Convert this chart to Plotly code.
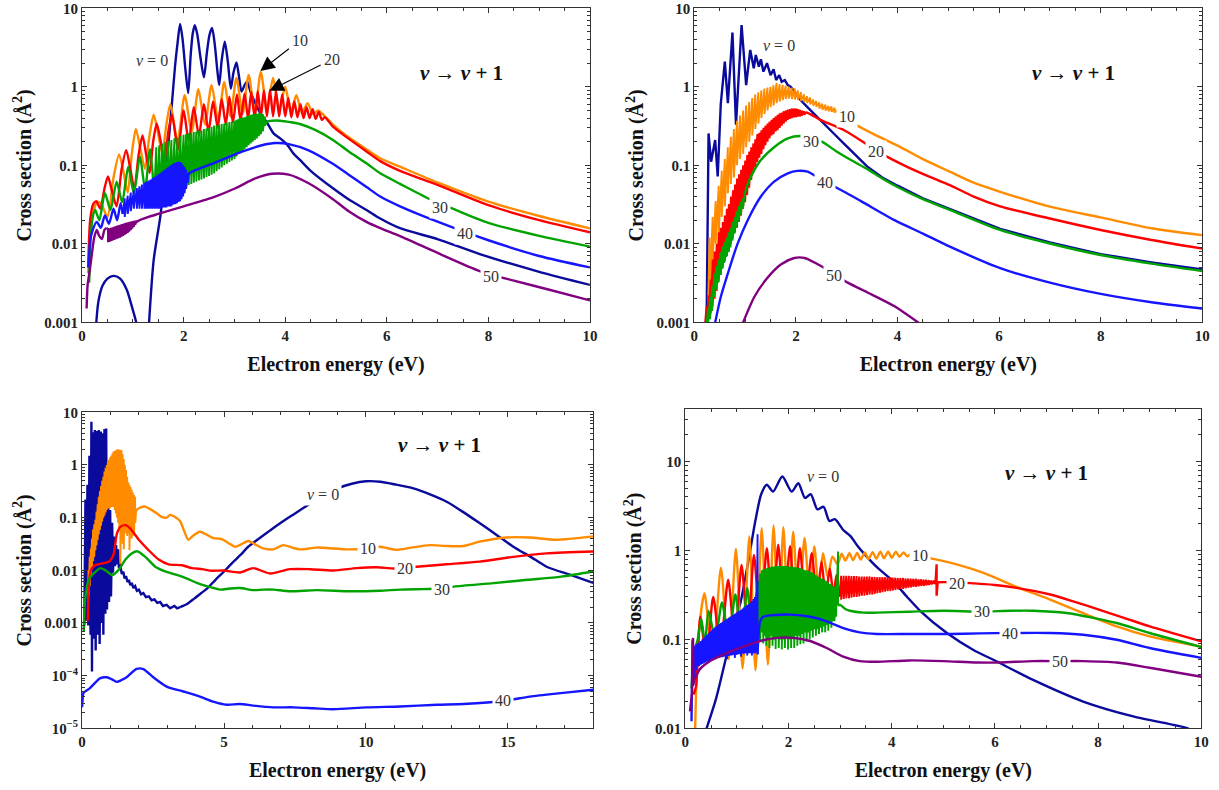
import math
import plotly.graph_objects as go

W, H = 1219, 790
FONT = "Liberation Serif, Times New Roman, serif"
FRAME = "#333333"
COLORS = {0: "#0a0a9c", 10: "#ff8c00", 20: "#ff0000", 30: "#00a300", 40: "#1515ff", 50: "#800080"}
LW = 2.4
LW_TEETH = 1.9

# ---------------- tick labels ----------------
X_TICKS_10 = [0, 2, 4, 6, 8, 10]
X_TICKS_18 = [0, 5, 10, 15]
Y_TICKS_A = [0.001, 0.01, 0.1, 1, 10]
Y_TEXT_A = ["0.001", "0.01", "0.1", "1", "10"]
Y_TICKS_C = [1e-5, 1e-4, 0.001, 0.01, 0.1, 1, 10]
Y_TEXT_C = ["10<sup>\u22125</sup>", "10<sup>\u22124</sup>", "0.001", "0.01", "0.1", "1", "10"]
Y_TICKS_D = [0.01, 0.1, 1, 10]
Y_TEXT_D = ["0.01", "0.1", "1", "10"]

# ---------------- PANEL 1 data ----------------
P1_V0_ARCH = [(0.27, 0.0008), (0.32, 0.0018), (0.40, 0.0029), (0.50, 0.0036), (0.62, 0.0039), (0.75, 0.0036),
              (0.88, 0.0026), (0.98, 0.0016), (1.05, 0.0011), (1.10, 0.0008)]
P1_V0 = [(1.31, 0.0008), (1.41, 0.0062), (1.54, 0.022), (1.67, 0.117), (1.77, 0.62), (1.83, 1.8), (1.88, 3.6),
         (1.93, 6.3), (1.98, 4.0), (2.03, 1.8), (2.09, 0.83), (2.14, 2.6), (2.18, 4.8), (2.22, 6.1), (2.27, 4.6),
         (2.33, 2.4), (2.40, 1.32), (2.46, 2.8), (2.51, 4.6), (2.56, 5.6), (2.61, 3.6), (2.66, 1.7), (2.70, 1.05),
         (2.75, 2.2), (2.81, 3.76), (2.87, 2.1), (2.93, 0.95), (2.98, 1.5), (3.04, 2.04), (3.09, 1.35), (3.14, 0.87),
         (3.20, 1.05), (3.25, 1.16), (3.32, 0.85), (3.42, 0.6), (3.52, 0.45), (3.63, 0.36), (3.77, 0.255),
         (3.90, 0.22), (4.03, 0.186), (4.16, 0.142), (4.29, 0.117), (4.50, 0.085), (4.94, 0.051), (5.30, 0.035),
         (5.60, 0.027), (5.87, 0.021), (6.26, 0.0158), (7.01, 0.0114), (7.83, 0.0074), (9.00, 0.0044), (10.0, 0.003)]
P1_V10 = [(0.12, 0.0042), (0.16, 0.012), (0.22, 0.025), (0.30, 0.034), (0.37, 0.033), (0.50, 0.022), (0.62, 0.07),
          (0.73, 0.138), (0.82, 0.08), (0.90, 0.045), (0.98, 0.14), (1.06, 0.29), (1.15, 0.16), (1.24, 0.09),
          (1.32, 0.22), (1.41, 0.44), (1.50, 0.25), (1.58, 0.14), (1.66, 0.33), (1.74, 0.60), (1.88, 0.20),
          (2.02, 0.78), (2.16, 0.27), (2.29, 0.93), (2.42, 0.33), (2.55, 1.05), (2.68, 0.38), (2.80, 1.15),
          (2.92, 0.42), (3.04, 1.30), (3.16, 0.45), (3.28, 1.42), (3.40, 0.48), (3.52, 1.55), (3.64, 0.50),
          (3.76, 1.30), (3.88, 0.50), (4.00, 1.00), (4.11, 0.48), (4.22, 0.78), (4.33, 0.46), (4.44, 0.62),
          (4.55, 0.45), (4.65, 0.50), (4.78, 0.42), (4.94, 0.33), (5.20, 0.24), (5.60, 0.16), (5.87, 0.123),
          (6.26, 0.096), (7.01, 0.06), (8.00, 0.0344), (9.00, 0.0226), (10.0, 0.0157)]
P1_V20 = [(0.12, 0.005), (0.16, 0.02), (0.22, 0.032), (0.28, 0.035), (0.36, 0.028), (0.44, 0.05), (0.51, 0.072),
          (0.58, 0.05), (0.68, 0.03), (0.78, 0.09), (0.87, 0.156), (0.95, 0.09), (1.03, 0.05), (1.11, 0.13),
          (1.19, 0.24), (1.26, 0.14), (1.33, 0.08), (1.40, 0.2), (1.47, 0.34), (1.55, 0.2), (1.62, 0.11),
          (1.70, 0.27), (1.77, 0.44), (1.89, 0.16), (2.00, 0.50), (2.10, 0.20), (2.20, 0.55), (2.30, 0.24),
          (2.40, 0.60), (2.49, 0.27), (2.58, 0.65), (2.67, 0.30), (2.75, 0.70), (2.83, 0.33), (2.90, 0.75),
          (2.97, 0.35), (3.05, 0.80), (3.12, 0.37), (3.20, 0.82), (3.27, 0.39), (3.33, 0.86), (3.40, 0.40),
          (3.46, 0.88), (3.52, 0.41), (3.58, 0.90), (3.64, 0.42), (3.70, 0.92), (3.76, 0.42), (3.82, 0.88),
          (3.88, 0.42), (3.94, 0.80), (4.00, 0.42), (4.06, 0.72), (4.12, 0.41), (4.18, 0.65), (4.24, 0.41),
          (4.30, 0.60), (4.36, 0.40), (4.42, 0.55), (4.48, 0.40), (4.54, 0.52), (4.60, 0.39), (4.66, 0.48),
          (4.72, 0.38), (4.78, 0.41), (4.94, 0.31), (5.20, 0.23), (5.60, 0.15), (5.87, 0.113), (6.26, 0.085),
          (7.01, 0.056), (8.00, 0.031), (9.00, 0.020), (10.0, 0.014)]
P1_V30_START = [(0.14, 0.0032), (0.17, 0.012), (0.21, 0.022), (0.26, 0.027), (0.34, 0.020), (0.45, 0.044),
                (0.56, 0.027), (0.68, 0.062), (0.79, 0.034), (0.91, 0.096), (1.02, 0.044), (1.14, 0.129),
                (1.24, 0.05), (1.34, 0.16), (1.42, 0.04)]
P1_V30_TEETH = [(1.46, 0.17, 0.033), (1.52, 0.18, 0.034), (1.58, 0.19, 0.035), (1.64, 0.20, 0.037),
                (1.70, 0.205, 0.040), (1.76, 0.21, 0.043), (1.82, 0.22, 0.046), (1.88, 0.225, 0.048),
                (1.94, 0.235, 0.050), (2.00, 0.245, 0.052), (2.05, 0.25, 0.054), (2.10, 0.255, 0.056),
                (2.15, 0.26, 0.058), (2.20, 0.265, 0.060), (2.25, 0.27, 0.062), (2.30, 0.275, 0.064),
                (2.35, 0.28, 0.066), (2.40, 0.29, 0.068), (2.45, 0.295, 0.071), (2.50, 0.30, 0.073),
                (2.55, 0.31, 0.076), (2.60, 0.32, 0.079), (2.65, 0.325, 0.084), (2.70, 0.33, 0.089),
                (2.75, 0.335, 0.094), (2.80, 0.34, 0.10), (2.85, 0.35, 0.105), (2.90, 0.355, 0.11),
                (2.95, 0.36, 0.115), (3.00, 0.37, 0.12), (3.04, 0.38, 0.13), (3.08, 0.39, 0.14),
                (3.12, 0.40, 0.145), (3.16, 0.405, 0.15), (3.20, 0.41, 0.16), (3.24, 0.42, 0.17),
                (3.28, 0.43, 0.18), (3.32, 0.44, 0.19), (3.36, 0.445, 0.20), (3.40, 0.45, 0.21),
                (3.44, 0.455, 0.22), (3.48, 0.46, 0.235), (3.52, 0.46, 0.25), (3.56, 0.45, 0.27), (3.60, 0.42, 0.32)]
P1_V30_TAIL = [(3.64, 0.36), (3.75, 0.37), (3.90, 0.37), (4.10, 0.355), (4.29, 0.336), (4.60, 0.28), (4.94, 0.21),
               (5.25, 0.15), (5.60, 0.106), (5.87, 0.079), (6.26, 0.058), (6.85, 0.037), (7.30, 0.028),
               (8.00, 0.0185), (9.00, 0.0126), (10.0, 0.0092)]
P1_V40_START = [(0.13, 0.005), (0.16, 0.011), (0.21, 0.015), (0.29, 0.019), (0.37, 0.016), (0.45, 0.023),
                (0.53, 0.018), (0.62, 0.028), (0.69, 0.02), (0.76, 0.033), (0.80, 0.024)]
P1_V40_TEETH = [(0.84, 0.038, 0.022), (0.90, 0.041, 0.024), (0.96, 0.045, 0.026), (1.02, 0.048, 0.028),
                (1.08, 0.051, 0.028), (1.13, 0.054, 0.028), (1.18, 0.057, 0.028), (1.23, 0.060, 0.028),
                (1.27, 0.062, 0.028), (1.31, 0.064, 0.028), (1.35, 0.066, 0.028), (1.39, 0.069, 0.028),
                (1.43, 0.071, 0.028), (1.47, 0.074, 0.028), (1.51, 0.077, 0.028), (1.54, 0.079, 0.028),
                (1.57, 0.082, 0.029), (1.60, 0.085, 0.029), (1.63, 0.088, 0.029), (1.66, 0.091, 0.029),
                (1.69, 0.094, 0.030), (1.72, 0.097, 0.030), (1.75, 0.10, 0.030), (1.78, 0.103, 0.031),
                (1.81, 0.106, 0.032), (1.84, 0.108, 0.032), (1.87, 0.11, 0.033), (1.90, 0.111, 0.034),
                (1.93, 0.11, 0.035), (1.96, 0.107, 0.037), (1.99, 0.10, 0.040), (2.02, 0.095, 0.044),
                (2.05, 0.088, 0.05), (2.08, 0.08, 0.06)]
P1_V40_TAIL = [(2.10, 0.078), (2.20, 0.085), (2.62, 0.108), (3.15, 0.149), (3.54, 0.18), (3.81, 0.192),
               (4.07, 0.186), (4.46, 0.155), (4.92, 0.106), (5.25, 0.076), (5.60, 0.053), (5.87, 0.04),
               (6.26, 0.03), (7.01, 0.019), (8.00, 0.0111), (9.00, 0.007), (10.0, 0.005)]
P1_V50_START = [(0.09, 0.0015), (0.11, 0.003), (0.15, 0.0045), (0.20, 0.008), (0.24, 0.012), (0.29, 0.015),
                (0.34, 0.0125), (0.39, 0.0115), (0.44, 0.015), (0.48, 0.016)]
P1_V50_TEETH = [(0.51, 0.0155, 0.0105), (0.54, 0.0158, 0.0106), (0.57, 0.016, 0.0108), (0.60, 0.0162, 0.011),
                (0.63, 0.0165, 0.0112), (0.66, 0.0168, 0.0114), (0.69, 0.017, 0.0116), (0.72, 0.0173, 0.0118),
                (0.75, 0.0175, 0.012), (0.78, 0.0178, 0.0123), (0.81, 0.018, 0.0126), (0.84, 0.0183, 0.013),
                (0.87, 0.0186, 0.0134), (0.90, 0.0188, 0.0138), (0.93, 0.019, 0.0143), (0.96, 0.0192, 0.0149),
                (0.99, 0.0194, 0.0156), (1.02, 0.0196, 0.0165), (1.05, 0.0198, 0.0175), (1.08, 0.0198, 0.0188)]
P1_V50_TAIL = [(1.10, 0.0195), (1.31, 0.022), (1.50, 0.024), (2.00, 0.03), (2.62, 0.04), (3.02, 0.051),
               (3.41, 0.068), (3.74, 0.078), (4.07, 0.076), (4.46, 0.059), (4.94, 0.037), (5.25, 0.026),
               (5.60, 0.019), (5.87, 0.0158), (6.26, 0.0125), (7.01, 0.0076), (7.83, 0.0045), (8.50, 0.0034),
               (9.20, 0.0026), (10.0, 0.0019)]

# ---------------- PANEL 2 data ----------------
P2_V0 = [(0.24, 0.0008), (0.27, 0.05), (0.28, 0.255), (0.33, 0.111), (0.41, 0.21), (0.46, 0.072), (0.52, 0.6),
         (0.60, 2.09), (0.66, 0.62), (0.75, 4.9), (0.82, 0.33), (0.93, 6.1), (1.02, 1.05), (1.10, 2.95),
         (1.17, 1.72), (1.21, 2.54), (1.27, 1.8), (1.31, 2.24), (1.36, 1.56), (1.43, 2.0), (1.50, 1.41),
         (1.56, 1.67), (1.61, 1.22), (1.67, 1.41), (1.72, 1.16), (1.78, 1.22), (1.84, 1.05), (1.90, 1.0),
         (2.09, 0.68), (2.25, 0.53), (2.42, 0.416), (2.58, 0.33), (2.74, 0.256), (2.94, 0.19), (3.14, 0.14),
         (3.40, 0.097), (3.70, 0.07), (4.00, 0.055), (4.50, 0.038), (5.03, 0.028), (6.02, 0.0155),
         (7.00, 0.0104), (8.00, 0.0074), (9.00, 0.0058), (10.0, 0.0047)]
P2_V10_START = [(0.26, 0.0008)]
P2_V10_TEETH = [(0.30, 0.012, 0.002), (0.36, 0.022, 0.006), (0.42, 0.035, 0.01), (0.48, 0.055, 0.013),
                (0.54, 0.085, 0.022), (0.60, 0.12, 0.03), (0.66, 0.17, 0.044), (0.72, 0.23, 0.058),
                (0.78, 0.29, 0.07), (0.84, 0.37, 0.10), (0.90, 0.43, 0.12), (0.96, 0.50, 0.14),
                (1.02, 0.58, 0.17), (1.08, 0.64, 0.20), (1.14, 0.72, 0.24), (1.20, 0.80, 0.29),
                (1.26, 0.85, 0.34), (1.32, 0.90, 0.40), (1.38, 0.95, 0.45), (1.44, 0.98, 0.50),
                (1.50, 1.00, 0.55), (1.56, 1.05, 0.58), (1.62, 1.12, 0.62), (1.68, 1.08, 0.65),
                (1.74, 1.06, 0.68), (1.80, 1.03, 0.70), (1.86, 1.00, 0.71), (1.92, 0.97, 0.70),
                (1.98, 0.95, 0.69), (2.04, 0.90, 0.68), (2.10, 0.85, 0.66), (2.16, 0.80, 0.64),
                (2.22, 0.76, 0.62), (2.28, 0.73, 0.60), (2.34, 0.69, 0.58), (2.40, 0.66, 0.56),
                (2.46, 0.63, 0.53), (2.52, 0.61, 0.51), (2.58, 0.59, 0.50), (2.64, 0.57, 0.49),
                (2.70, 0.56, 0.48), (2.76, 0.54, 0.47), (2.82, 0.52, 0.46)]
P2_V10_TAIL = [(2.86, 0.48), (3.00, 0.42), (3.16, 0.336), (3.50, 0.255), (4.05, 0.172), (4.50, 0.12),
               (5.03, 0.083), (5.50, 0.06), (6.02, 0.046), (7.00, 0.0297), (8.00, 0.0217), (9.00, 0.0158),
               (10.0, 0.0129)]
P2_V20_START = [(0.20, 0.0008)]
P2_V20_TEETH = [(0.24, 0.0016, 0.001), (0.28, 0.0022, 0.0011), (0.32, 0.0035, 0.0013), (0.36, 0.0063, 0.0016),
                (0.40, 0.008, 0.002), (0.44, 0.010, 0.0025), (0.48, 0.014, 0.0033), (0.52, 0.016, 0.004),
                (0.56, 0.019, 0.005), (0.60, 0.023, 0.006), (0.64, 0.028, 0.007), (0.68, 0.032, 0.008),
                (0.72, 0.040, 0.010), (0.76, 0.048, 0.012), (0.80, 0.057, 0.014), (0.84, 0.068, 0.016),
                (0.88, 0.077, 0.019), (0.92, 0.088, 0.023), (0.96, 0.10, 0.028), (1.00, 0.115, 0.034),
                (1.04, 0.135, 0.042), (1.08, 0.15, 0.052), (1.12, 0.17, 0.065), (1.16, 0.19, 0.08),
                (1.20, 0.215, 0.095), (1.24, 0.25, 0.11), (1.28, 0.26, 0.125), (1.32, 0.28, 0.14),
                (1.36, 0.30, 0.16), (1.40, 0.32, 0.18), (1.44, 0.34, 0.20), (1.48, 0.36, 0.22),
                (1.52, 0.38, 0.24), (1.56, 0.40, 0.25), (1.60, 0.42, 0.27), (1.64, 0.44, 0.28),
                (1.68, 0.46, 0.30), (1.72, 0.47, 0.32), (1.76, 0.49, 0.34), (1.80, 0.50, 0.36),
                (1.84, 0.51, 0.38), (1.88, 0.52, 0.39), (1.92, 0.53, 0.40), (1.96, 0.53, 0.41),
                (2.00, 0.53, 0.41), (2.04, 0.52, 0.42), (2.08, 0.51, 0.42), (2.12, 0.50, 0.43), (2.16, 0.49, 0.44)]
P2_V20_TAIL = [(2.20, 0.47), (2.49, 0.377), (2.95, 0.28), (3.37, 0.19), (3.58, 0.155), (3.79, 0.129),
               (4.20, 0.095), (4.71, 0.068), (5.03, 0.056), (5.50, 0.04), (6.02, 0.030), (7.00, 0.021),
               (8.00, 0.015), (9.00, 0.0112), (10.0, 0.0087)]
P2_V30_START = [(0.23, 0.0008)]
P2_V30_TEETH = [(0.27, 0.0015, 0.0009), (0.31, 0.0021, 0.0011), (0.35, 0.0029, 0.0014), (0.39, 0.0042, 0.0021),
                (0.43, 0.0052, 0.0026), (0.47, 0.0063, 0.0032), (0.51, 0.0078, 0.004), (0.55, 0.0092, 0.0048),
                (0.59, 0.0105, 0.0057), (0.63, 0.012, 0.0068), (0.67, 0.014, 0.0078), (0.71, 0.016, 0.009),
                (0.75, 0.019, 0.011), (0.79, 0.022, 0.0135), (0.83, 0.026, 0.016), (0.87, 0.03, 0.019),
                (0.91, 0.034, 0.023), (0.95, 0.038, 0.028)]
P2_V30_TAIL = [(1.00, 0.045), (1.05, 0.057), (1.15, 0.08), (1.31, 0.117), (1.57, 0.17), (1.84, 0.22),
               (2.10, 0.236), (2.30, 0.22), (2.51, 0.2), (2.80, 0.15), (3.10, 0.115), (3.40, 0.09),
               (3.70, 0.068), (4.00, 0.053), (4.50, 0.037), (5.03, 0.027), (6.02, 0.015), (7.00, 0.0101),
               (8.00, 0.0072), (9.00, 0.0056), (10.0, 0.0045)]
P2_V40 = [(0.38, 0.0008), (0.52, 0.0021), (0.66, 0.0042), (0.85, 0.01), (1.05, 0.02), (1.31, 0.04),
          (1.57, 0.062), (1.84, 0.079), (2.03, 0.085), (2.23, 0.083), (2.40, 0.072), (2.58, 0.06),
          (2.82, 0.051), (3.28, 0.035), (3.94, 0.02), (4.50, 0.0135), (5.03, 0.0092), (6.02, 0.0049),
          (7.00, 0.0032), (8.00, 0.0023), (9.00, 0.0018), (10.0, 0.0015)]
P2_V50 = [(0.90, 0.0008), (1.18, 0.0021), (1.44, 0.0037), (1.71, 0.0055), (1.97, 0.0066), (2.17, 0.0066),
          (2.43, 0.0055), (2.74, 0.0042), (3.02, 0.0032), (3.41, 0.0024), (3.94, 0.0016), (4.50, 0.0009)]

# ---------------- PANEL 3 data ----------------
P3_V0_SPIKES = [(0.08, 0.0009), (0.12, 0.22), (0.15, 0.0011), (0.19, 0.42), (0.22, 0.0009), (0.26, 1.5),
                (0.30, 0.0006), (0.33, 6.6), (0.35, 0.00012), (0.38, 4.2), (0.41, 0.0005), (0.45, 4.6),
                (0.48, 0.0003), (0.52, 4.4), (0.55, 0.0006), (0.59, 4.6), (0.62, 0.0004), (0.66, 4.3),
                (0.69, 0.001), (0.72, 4.0), (0.75, 0.0006), (0.79, 4.8), (0.82, 0.0015), (0.85, 4.9),
                (0.88, 0.0018), (0.92, 0.5), (0.95, 0.0025), (0.99, 0.14), (1.02, 0.0032), (1.06, 0.08),
                (1.09, 0.009), (1.13, 0.044), (1.16, 0.012), (1.20, 0.03), (1.23, 0.013), (1.27, 0.025),
                (1.30, 0.011), (1.34, 0.013), (1.40, 0.0085), (1.45, 0.0095), (1.50, 0.007), (1.55, 0.0078),
                (1.60, 0.006), (1.65, 0.0066), (1.70, 0.0052), (1.75, 0.0058), (1.81, 0.0046), (1.87, 0.005),
                (1.93, 0.0041), (2.00, 0.0043), (2.08, 0.0035), (2.16, 0.0037), (2.25, 0.0031), (2.35, 0.0032),
                (2.45, 0.0027), (2.55, 0.0028), (2.65, 0.0024), (2.75, 0.0025), (2.85, 0.0021), (2.98, 0.0022),
                (3.10, 0.0019), (3.25, 0.0021), (3.35, 0.0019), (3.45, 0.002)]
P3_V0_TAIL = [(3.70, 0.0023), (3.95, 0.0029), (4.20, 0.0037), (4.40, 0.0045), (4.70, 0.0066), (5.00, 0.0095),
              (5.30, 0.014), (5.60, 0.02), (5.85, 0.028), (6.20, 0.039), (6.60, 0.056), (7.00, 0.08),
              (7.50, 0.12), (8.00, 0.18), (8.50, 0.27), (9.00, 0.36), (9.50, 0.44), (10.0, 0.49), (10.5, 0.48),
              (11.0, 0.43), (11.67, 0.36), (12.3, 0.27), (12.84, 0.2), (13.4, 0.13), (14.01, 0.078),
              (14.6, 0.047), (15.19, 0.028), (15.8, 0.018), (16.36, 0.0117), (17.2, 0.0082), (18.0, 0.0058)]
P3_V10_START = [(0.20, 0.003)]
P3_V10_TEETH = [(0.23, 0.01, 0.0032), (0.27, 0.018, 0.005), (0.31, 0.026, 0.0075), (0.35, 0.04, 0.011),
                (0.39, 0.06, 0.015), (0.43, 0.075, 0.018), (0.47, 0.091, 0.024), (0.51, 0.13, 0.03),
                (0.55, 0.18, 0.038), (0.59, 0.25, 0.048), (0.63, 0.32, 0.058), (0.67, 0.40, 0.07),
                (0.71, 0.50, 0.085), (0.75, 0.60, 0.10), (0.79, 0.75, 0.11), (0.83, 0.88, 0.125),
                (0.87, 1.00, 0.14), (0.91, 1.15, 0.15), (0.95, 1.25, 0.15), (0.99, 1.40, 0.15),
                (1.03, 1.50, 0.16), (1.07, 1.65, 0.16), (1.11, 1.80, 0.16), (1.15, 1.85, 0.14),
                (1.19, 1.90, 0.12), (1.23, 1.95, 0.10), (1.27, 1.98, 0.08), (1.31, 1.95, 0.06),
                (1.35, 1.95, 0.013), (1.39, 1.90, 0.04), (1.43, 1.60, 0.032), (1.47, 1.30, 0.025),
                (1.51, 1.00, 0.06), (1.55, 0.80, 0.05), (1.59, 0.60, 0.045), (1.63, 0.47, 0.05),
                (1.67, 0.42, 0.024), (1.71, 0.38, 0.05), (1.75, 0.34, 0.04), (1.79, 0.30, 0.045),
                (1.83, 0.27, 0.05), (1.87, 0.25, 0.08)]
P3_V10_TAIL = [(1.92, 0.14), (2.05, 0.155), (2.22, 0.162), (2.40, 0.145), (2.63, 0.121), (2.80, 0.103),
               (2.98, 0.1), (3.10, 0.113), (3.25, 0.105), (3.45, 0.086), (3.60, 0.055), (3.74, 0.038),
               (3.90, 0.045), (4.15, 0.054), (4.40, 0.047), (4.62, 0.041), (4.92, 0.039), (5.15, 0.033),
               (5.39, 0.028), (5.60, 0.031), (5.86, 0.036), (6.10, 0.031), (6.38, 0.026), (6.74, 0.025),
               (7.09, 0.03), (7.40, 0.027), (7.68, 0.025), (8.26, 0.027), (8.85, 0.026), (9.32, 0.025),
               (10.08, 0.026), (10.49, 0.028), (11.08, 0.0244), (11.6, 0.027), (12.25, 0.030), (12.8, 0.029),
               (13.43, 0.029), (14.0, 0.035), (14.95, 0.042), (15.77, 0.042), (16.7, 0.038), (18.0, 0.044)]
P3_V20 = [(0.20, 0.0011), (0.24, 0.0056), (0.30, 0.0095), (0.35, 0.011), (0.47, 0.0126), (0.70, 0.0135),
          (0.94, 0.0145), (1.05, 0.017), (1.12, 0.021), (1.23, 0.05), (1.35, 0.067), (1.53, 0.072),
          (1.70, 0.062), (2.00, 0.038), (2.35, 0.024), (2.70, 0.016), (3.05, 0.013), (3.52, 0.0125),
          (3.87, 0.011), (4.23, 0.0105), (4.58, 0.0098), (4.98, 0.0099), (5.56, 0.0091), (6.03, 0.011),
          (6.62, 0.0087), (7.32, 0.0105), (8.03, 0.0105), (8.85, 0.0099), (9.67, 0.011), (10.38, 0.0114),
          (11.0, 0.0108), (11.78, 0.0117), (12.84, 0.013), (14.0, 0.0146), (15.19, 0.018), (16.36, 0.021),
          (18.0, 0.0227)]
P3_V30 = [(0.06, 0.0007), (0.09, 0.002), (0.12, 0.0032), (0.23, 0.0066), (0.41, 0.0087), (0.65, 0.011),
          (0.88, 0.0095), (1.06, 0.0081), (1.29, 0.0102), (1.53, 0.016), (1.76, 0.021), (1.94, 0.023),
          (2.23, 0.018), (2.58, 0.0117), (2.93, 0.0095), (3.52, 0.0076), (4.11, 0.0056), (4.52, 0.0048),
          (4.86, 0.0043), (5.20, 0.0045), (5.56, 0.0046), (6.03, 0.0042), (6.40, 0.0043), (6.74, 0.0043),
          (7.32, 0.004), (8.26, 0.0042), (9.44, 0.004), (10.49, 0.0041), (11.2, 0.0043), (12.0, 0.0044),
          (12.66, 0.0045), (13.1, 0.0049), (14.5, 0.0057), (15.7, 0.0066), (16.88, 0.0076), (18.0, 0.0095)]
P3_V40 = [(0.0, 2.5e-5), (0.02, 3.5e-5), (0.05, 4.7e-5), (0.28, 5.8e-5), (0.63, 8.9e-5), (0.87, 9.3e-5),
          (1.05, 8.5e-5), (1.22, 7.6e-5), (1.40, 8.3e-5), (1.57, 9.3e-5), (1.92, 1.34e-4), (2.16, 1.33e-4),
          (2.51, 9.3e-5), (2.98, 6.2e-5), (3.57, 5e-5), (4.15, 4e-5), (4.62, 3.2e-5), (5.09, 2.8e-5),
          (5.56, 2.9e-5), (6.03, 2.7e-5), (6.74, 2.5e-5), (7.44, 2.5e-5), (8.15, 2.4e-5), (8.85, 2.3e-5),
          (10.02, 2.5e-5), (11.2, 2.6e-5), (12.5, 2.8e-5), (13.43, 2.9e-5), (14.84, 3.3e-5), (15.77, 4.0e-5),
          (16.94, 4.7e-5), (18.0, 5.4e-5)]

# ---------------- PANEL 4 data ----------------
P4_V0 = [(0.40, 0.0095), (0.60, 0.022), (0.78, 0.059), (0.93, 0.13), (1.07, 0.26), (1.22, 0.75), (1.36, 2.2),
         (1.47, 4.3), (1.58, 5.5), (1.70, 4.6), (1.88, 6.8), (2.06, 4.6), (2.19, 5.7), (2.32, 3.9), (2.43, 4.3),
         (2.56, 2.9), (2.68, 3.1), (2.79, 2.15), (2.90, 2.25), (3.06, 1.7), (3.20, 1.45), (3.35, 1.1),
         (3.51, 0.86), (3.75, 0.62), (4.03, 0.45), (4.30, 0.3), (4.55, 0.21), (5.07, 0.118), (5.60, 0.075),
         (5.97, 0.059), (6.74, 0.035), (7.71, 0.02), (8.68, 0.0136), (9.71, 0.0101), (9.80, 0.0095)]
P4_V10 = [(0.19, 0.0095), (0.25, 0.1), (0.37, 0.33), (0.53, 0.06), (0.69, 0.64), (0.84, 0.06), (0.98, 1.04),
          (1.11, 0.047), (1.24, 1.44), (1.36, 0.045), (1.48, 1.78), (1.60, 0.052), (1.71, 1.91), (1.81, 0.1),
          (1.90, 1.83), (2.00, 0.15), (2.09, 1.63), (2.20, 0.2), (2.31, 1.38), (2.41, 0.3), (2.50, 1.11),
          (2.58, 0.4), (2.67, 0.93), (2.76, 0.5), (2.85, 0.85), (2.95, 0.7), (3.03, 0.92), (3.10, 0.77),
          (3.18, 0.93), (3.25, 0.78), (3.33, 0.94), (3.40, 0.79), (3.48, 0.95), (3.55, 0.80), (3.63, 0.96),
          (3.70, 0.81), (3.78, 0.97), (3.85, 0.82), (3.93, 0.97), (4.00, 0.83), (4.08, 0.97), (4.15, 0.85),
          (4.23, 0.95), (4.30, 0.86), (4.38, 0.92), (4.45, 0.88), (4.55, 0.87), (4.74, 0.82), (5.13, 0.73),
          (5.78, 0.56), (6.42, 0.39), (7.07, 0.28), (7.71, 0.198), (8.36, 0.14), (9.00, 0.108), (10.0, 0.083)]
P4_V20_ARCH = [(0.16, 0.024), (0.21, 0.03), (0.29, 0.18), (0.41, 0.06), (0.54, 0.3), (0.68, 0.08), (0.83, 0.47),
               (0.96, 0.1), (1.09, 0.69), (1.21, 0.12), (1.33, 0.89), (1.45, 0.14), (1.58, 1.06), (1.69, 0.16),
               (1.80, 1.16), (1.91, 0.2), (2.03, 1.12), (2.12, 0.22), (2.22, 1.06), (2.33, 0.25), (2.45, 0.93),
               (2.55, 0.28), (2.64, 0.75), (2.72, 0.3), (2.80, 0.63), (2.87, 0.32), (2.93, 0.53), (2.98, 0.3)]
P4_V20_TEETH = [(3.02, 0.52, 0.28), (3.07, 0.52, 0.285), (3.12, 0.52, 0.29), (3.17, 0.52, 0.29),
                (3.22, 0.515, 0.295), (3.27, 0.515, 0.30), (3.32, 0.515, 0.30), (3.37, 0.51, 0.305),
                (3.42, 0.51, 0.31), (3.47, 0.51, 0.31), (3.52, 0.51, 0.315), (3.57, 0.51, 0.32),
                (3.62, 0.505, 0.32), (3.67, 0.505, 0.325), (3.72, 0.50, 0.33), (3.77, 0.50, 0.335),
                (3.82, 0.50, 0.34), (3.87, 0.50, 0.345), (3.92, 0.50, 0.35), (3.97, 0.50, 0.35),
                (4.02, 0.495, 0.355), (4.07, 0.495, 0.36), (4.12, 0.49, 0.365), (4.17, 0.49, 0.37),
                (4.22, 0.49, 0.37), (4.27, 0.485, 0.375), (4.32, 0.485, 0.38), (4.37, 0.48, 0.385),
                (4.42, 0.48, 0.39), (4.47, 0.48, 0.39), (4.52, 0.475, 0.395), (4.57, 0.475, 0.40),
                (4.62, 0.47, 0.40), (4.67, 0.47, 0.405), (4.72, 0.465, 0.41), (4.77, 0.46, 0.415),
                (4.82, 0.46, 0.42)]
P4_V20_CROSS = [(4.85, 0.44), (4.87, 0.70), (4.87, 0.31), (4.89, 0.44)]
P4_V20_TAIL = [(5.10, 0.44), (5.52, 0.43), (6.00, 0.41), (6.42, 0.38), (7.07, 0.32), (7.50, 0.27), (8.03, 0.215),
               (8.50, 0.175), (9.00, 0.14), (10.0, 0.095)]
P4_V30_ARCH = [(0.12, 0.028), (0.17, 0.07), (0.24, 0.1), (0.31, 0.17), (0.38, 0.09), (0.45, 0.21), (0.58, 0.1),
               (0.71, 0.26), (0.84, 0.1), (0.97, 0.32), (1.09, 0.1), (1.20, 0.38), (1.30, 0.1), (1.39, 0.43)]
P4_V30_TEETH = [(1.42, 0.45, 0.10), (1.45, 0.55, 0.095), (1.48, 0.60, 0.12), (1.51, 0.61, 0.09),
                (1.54, 0.62, 0.11), (1.57, 0.63, 0.085), (1.60, 0.64, 0.10), (1.63, 0.64, 0.08),
                (1.66, 0.65, 0.11), (1.69, 0.66, 0.085), (1.72, 0.66, 0.10), (1.75, 0.67, 0.078),
                (1.78, 0.67, 0.105), (1.81, 0.67, 0.08), (1.84, 0.67, 0.10), (1.87, 0.67, 0.077),
                (1.90, 0.67, 0.10), (1.93, 0.67, 0.08), (1.96, 0.67, 0.105), (1.99, 0.66, 0.077),
                (2.02, 0.66, 0.10), (2.05, 0.66, 0.08), (2.08, 0.66, 0.105), (2.11, 0.65, 0.08),
                (2.14, 0.65, 0.11), (2.17, 0.64, 0.085), (2.20, 0.64, 0.11), (2.23, 0.63, 0.088),
                (2.26, 0.62, 0.115), (2.29, 0.61, 0.09), (2.32, 0.60, 0.12), (2.35, 0.60, 0.095),
                (2.38, 0.59, 0.12), (2.41, 0.58, 0.10), (2.44, 0.57, 0.125), (2.47, 0.56, 0.105),
                (2.50, 0.54, 0.13), (2.53, 0.53, 0.11), (2.56, 0.51, 0.13), (2.59, 0.50, 0.115),
                (2.62, 0.49, 0.135), (2.65, 0.48, 0.12), (2.68, 0.47, 0.14), (2.71, 0.46, 0.12),
                (2.74, 0.45, 0.145), (2.77, 0.44, 0.125), (2.80, 0.42, 0.15), (2.83, 0.41, 0.135),
                (2.86, 0.40, 0.16), (2.89, 0.39, 0.16), (2.92, 0.38, 0.18), (2.96, 0.975, 0.24)]
P4_V30_TAIL = [(3.00, 0.245), (3.10, 0.22), (3.19, 0.21), (3.45, 0.2), (3.71, 0.2), (4.35, 0.205), (5.00, 0.21),
               (5.74, 0.205), (6.30, 0.21), (6.74, 0.21), (7.39, 0.198), (7.90, 0.175), (8.36, 0.153),
               (9.00, 0.118), (10.0, 0.082)]
P4_V40_START = [(0.12, 0.012), (0.14, 0.1), (0.15, 0.03)]
P4_V40_TEETH = [(0.18, 0.085, 0.035), (0.21, 0.088, 0.045), (0.24, 0.09, 0.05), (0.27, 0.092, 0.05),
                (0.30, 0.096, 0.052), (0.33, 0.10, 0.053), (0.36, 0.104, 0.054), (0.39, 0.108, 0.055),
                (0.42, 0.113, 0.056), (0.45, 0.117, 0.057), (0.48, 0.122, 0.058), (0.51, 0.127, 0.059),
                (0.54, 0.131, 0.06), (0.57, 0.136, 0.06), (0.60, 0.14, 0.061), (0.63, 0.145, 0.062),
                (0.66, 0.149, 0.062), (0.69, 0.153, 0.063), (0.72, 0.157, 0.063), (0.75, 0.161, 0.064),
                (0.78, 0.166, 0.064), (0.81, 0.17, 0.060), (0.84, 0.175, 0.065), (0.87, 0.18, 0.066),
                (0.90, 0.184, 0.066), (0.93, 0.189, 0.067), (0.96, 0.194, 0.062), (0.99, 0.199, 0.067),
                (1.02, 0.205, 0.068), (1.05, 0.21, 0.068), (1.08, 0.216, 0.064), (1.11, 0.223, 0.069),
                (1.14, 0.23, 0.069), (1.17, 0.236, 0.07), (1.20, 0.243, 0.066), (1.23, 0.25, 0.07),
                (1.26, 0.258, 0.07), (1.29, 0.27, 0.066), (1.32, 0.285, 0.07), (1.35, 0.30, 0.07),
                (1.38, 0.33, 0.072), (1.40, 1.52, 0.068)]
P4_V40_TAIL = [(1.45, 0.16), (1.51, 0.18), (1.75, 0.188), (2.03, 0.19), (2.42, 0.18), (2.74, 0.16),
               (3.06, 0.134), (3.38, 0.12), (3.71, 0.115), (4.35, 0.115), (5.13, 0.115), (5.70, 0.117),
               (6.29, 0.118), (7.07, 0.118), (7.71, 0.113), (8.36, 0.099), (9.00, 0.08), (10.0, 0.062)]
P4_V50_START = [(0.09, 0.0155), (0.13, 0.025), (0.15, 0.104), (0.155, 0.031), (0.19, 0.037)]
P4_V50_TAIL = [(0.28, 0.046), (0.48, 0.057), (0.80, 0.07), (1.12, 0.083), (1.45, 0.096), (1.77, 0.104),
               (2.09, 0.104), (2.42, 0.096), (2.74, 0.08), (3.06, 0.064), (3.38, 0.057), (3.71, 0.056),
               (4.35, 0.058), (5.00, 0.057), (5.65, 0.055), (6.10, 0.055), (6.74, 0.057), (7.26, 0.057),
               (7.71, 0.057), (8.36, 0.055), (9.00, 0.048), (10.0, 0.038)]

# curve definitions: panel -> list of (v, [(kind, data), ...]); kinds: s=spline, l=linear, t=teeth
CURVES = {
    1: [(0, [("s", P1_V0_ARCH)]), (0, [("s", P1_V0)]), (10, [("s", P1_V10)]), (20, [("s", P1_V20)]),
        (30, [("s", P1_V30_START), ("t", P1_V30_TEETH), ("s", P1_V30_TAIL)]),
        (40, [("s", P1_V40_START), ("t", P1_V40_TEETH), ("s", P1_V40_TAIL)]),
        (50, [("s", P1_V50_START), ("t", P1_V50_TEETH), ("s", P1_V50_TAIL)])],
    2: [(0, [("l", P2_V0)]),
        (10, [("l", P2_V10_START), ("t", P2_V10_TEETH), ("s", P2_V10_TAIL)]),
        (20, [("l", P2_V20_START), ("t", P2_V20_TEETH), ("s", P2_V20_TAIL)]),
        (30, [("l", P2_V30_START), ("t", P2_V30_TEETH), ("s", P2_V30_TAIL)]),
        (40, [("s", P2_V40)]), (50, [("s", P2_V50)])],
    3: [(0, [("l", P3_V0_SPIKES), ("s", P3_V0_TAIL)]),
        (10, [("l", P3_V10_START), ("t", P3_V10_TEETH), ("s", P3_V10_TAIL)]),
        (20, [("s", P3_V20)]), (30, [("s", P3_V30)]), (40, [("s", P3_V40)])],
    4: [(0, [("s", P4_V0)]), (10, [("s", P4_V10)]),
        (20, [("s", P4_V20_ARCH), ("t", P4_V20_TEETH), ("l", P4_V20_CROSS), ("s", P4_V20_TAIL)]),
        (30, [("s", P4_V30_ARCH), ("t", P4_V30_TEETH), ("s", P4_V30_TAIL)]),
        (40, [("l", P4_V40_START), ("t", P4_V40_TEETH), ("s", P4_V40_TAIL)]),
        (50, [("l", P4_V50_START), ("s", P4_V50_TAIL)])],
}

# on-curve labels: panel, x, y, text, white background
LABELS = [
    (1, 1.37, 2.19, "<i>v</i> = 0", False), (1, 7.05, 0.029, "30", True), (1, 7.54, 0.0136, "40", True),
    (1, 8.06, 0.0038, "50", True),
    (2, 1.66, 3.31, "<i>v</i> = 0", False), (2, 3.0, 0.42, "10", True), (2, 3.58, 0.15, "20", True),
    (2, 2.29, 0.2, "30", True), (2, 2.57, 0.06, "40", True), (2, 2.74, 0.004, "50", True),
    (3, 8.5, 0.28, "<i>v</i> = 0", True), (3, 10.08, 0.026, "10", True), (3, 11.37, 0.011, "20", True),
    (3, 12.66, 0.0044, "30", True), (3, 14.84, 3.3e-5, "40", True),
    (4, 2.67, 6.8, "<i>v</i> = 0", False), (4, 4.55, 0.87, "10", True), (4, 5.27, 0.43, "20", True),
    (4, 5.74, 0.205, "30", True), (4, 6.29, 0.117, "40", True), (4, 7.26, 0.057, "50", True),
]
# arrows in panel 1: text, text position, arrow head position
ARROWS = [("10", (4.29, 3.94), (3.51, 1.59)), ("20", (4.92, 2.24), (3.69, 0.89))]
TITLE_POS = {1: (7.47, 1.49), 2: (7.46, 1.49), 3: (12.6, 2.4), 4: (7.0, 7.4)}

# ---------------- layout geometry (page pixels -> figure fractions) ----------------
PANELS = {
    1: dict(xd=[0.0673, 0.4840], yd=[0.5920, 0.9895], xr=[0, 10], yr=[-3, 1], xt=X_TICKS_10, xm=0.5,
            yt=Y_TICKS_A, ytt=Y_TEXT_A),
    2: dict(xd=[0.5696, 0.9863], yd=[0.5920, 0.9895], xr=[0, 10], yr=[-3, 1], xt=X_TICKS_10, xm=0.5,
            yt=Y_TICKS_A, ytt=Y_TEXT_A),
    3: dict(xd=[0.0673, 0.4866], yd=[0.0781, 0.4781], xr=[0, 18], yr=[-5, 1], xt=X_TICKS_18, xm=1,
            yt=Y_TICKS_C, ytt=Y_TEXT_C),
    4: dict(xd=[0.5622, 0.9855], yd=[0.0781, 0.4823], xr=[0, 10], yr=[-2, 1.592], xt=X_TICKS_10, xm=0.5,
            yt=Y_TICKS_D, ytt=Y_TEXT_D),
}


def build(segments):
    out = []
    last = None
    for kind, data in segments:
        xs, ys = [], []
        if last is not None:
            first = (data[0][0], data[0][1])
            if abs(first[0] - last[0]) > 1e-9 or abs(first[1] - last[1]) > 1e-12:
                xs.append(last[0]); ys.append(last[1])
        if kind == "t":
            for x, top, bot in data:
                xs += [x, x]; ys += [top, bot]
        else:
            for p in data:
                xs.append(p[0]); ys.append(p[1])
        last = (xs[-1], ys[-1])
        out.append((kind, xs, ys))
    return out


fig = go.Figure()
for pn, curves in CURVES.items():
    sfx = "" if pn == 1 else str(pn)
    for v, segs in curves:
        for kind, xs, ys in build(segs):
            line = dict(color=COLORS[v], width=LW_TEETH if kind == "t" else LW,
                        shape="spline" if kind == "s" else "linear")
            if kind == "s":
                line["smoothing"] = 0.7
            fig.add_trace(go.Scatter(x=xs, y=ys, mode="lines", line=line, xaxis="x" + sfx, yaxis="y" + sfx,
                                     showlegend=False, hoverinfo="skip"))

tick_font = dict(family=FONT, size=15, color="#222", weight="bold")
title_font = dict(family=FONT, size=20, color="#111", weight="bold")
layout = dict(width=W, height=H, margin=dict(l=0, r=0, t=0, b=0, autoexpand=False), paper_bgcolor="white",
              plot_bgcolor="white", showlegend=False, annotations=[])
for pn, p in PANELS.items():
    sfx = "" if pn == 1 else str(pn)
    lo, hi = math.floor(p["yr"][0]), math.ceil(p["yr"][1])
    minor_vals = [m * 10 ** e for e in range(lo, hi) for m in range(2, 10)
                  if p["yr"][0] <= math.log10(m * 10 ** e) <= p["yr"][1]]
    layout["xaxis" + sfx] = dict(
        domain=p["xd"], range=p["xr"], anchor="y" + sfx, automargin=False, showline=True, linecolor=FRAME,
        linewidth=1.2, mirror="ticks", ticks="inside", ticklen=5, tickwidth=1, tickcolor=FRAME, tickmode="array",
        tickvals=p["xt"], ticktext=[str(t) for t in p["xt"]], ticklabeloverflow="allow",
        minor=dict(ticks="inside", dtick=p["xm"], tick0=0, ticklen=3, tickwidth=1, tickcolor=FRAME),
        showgrid=False, zeroline=False, tickfont=tick_font,
        title=dict(text="Electron energy (eV)", font=title_font, standoff=13))
    layout["yaxis" + sfx] = dict(
        domain=p["yd"], range=p["yr"], type="log", anchor="x" + sfx, automargin=False, showline=True,
        linecolor=FRAME, linewidth=1.2, mirror="ticks", ticks="inside", ticklen=5, tickwidth=1, tickcolor=FRAME,
        tickmode="array", tickvals=p["yt"], ticktext=p["ytt"], ticklabeloverflow="allow",
        minor=dict(ticks="inside", tickmode="array", tickvals=minor_vals, ticklen=3, tickwidth=1,
                   tickcolor=FRAME),
        showgrid=False, zeroline=False, tickfont=tick_font,
        title=dict(text="Cross section (Å<sup>2</sup>)", font=title_font, standoff=7))

ann = layout["annotations"]
for pn, x, y, text, bg in LABELS:
    sfx = "" if pn == 1 else str(pn)
    a = dict(x=x, y=math.log10(y), xref="x" + sfx, yref="y" + sfx, text=text, showarrow=False,
             font=dict(family=FONT, size=16, color="#333"))
    if bg:
        a.update(bgcolor="white", borderpad=2)
    ann.append(a)
for text, (tx, ty), (hx, hy) in ARROWS:
    ann.append(dict(x=hx, y=math.log10(hy), xref="x", yref="y", ax=tx, ay=math.log10(ty), axref="x", ayref="y",
                    text=text, showarrow=True, arrowhead=2, arrowsize=2.6, arrowwidth=1.1, arrowcolor="black",
                    standoff=0, startstandoff=2, font=dict(family=FONT, size=16, color="#333")))
for pn, (tx, ty) in TITLE_POS.items():
    sfx = "" if pn == 1 else str(pn)
    ann.append(dict(x=tx, y=math.log10(ty), xref="x" + sfx, yref="y" + sfx, showarrow=False,
                    text="<i>v</i> \u2192 <i>v</i> + 1", font=dict(family=FONT, size=21, color="#111", weight="bold")))

fig.update_layout(**layout)
# remove the default page margin so the figure sits at the window's top-left corner
fig.write_html("out.html", config={"displayModeBar": False},
               post_script="document.body.style.margin='0';document.body.style.overflow='hidden';")
